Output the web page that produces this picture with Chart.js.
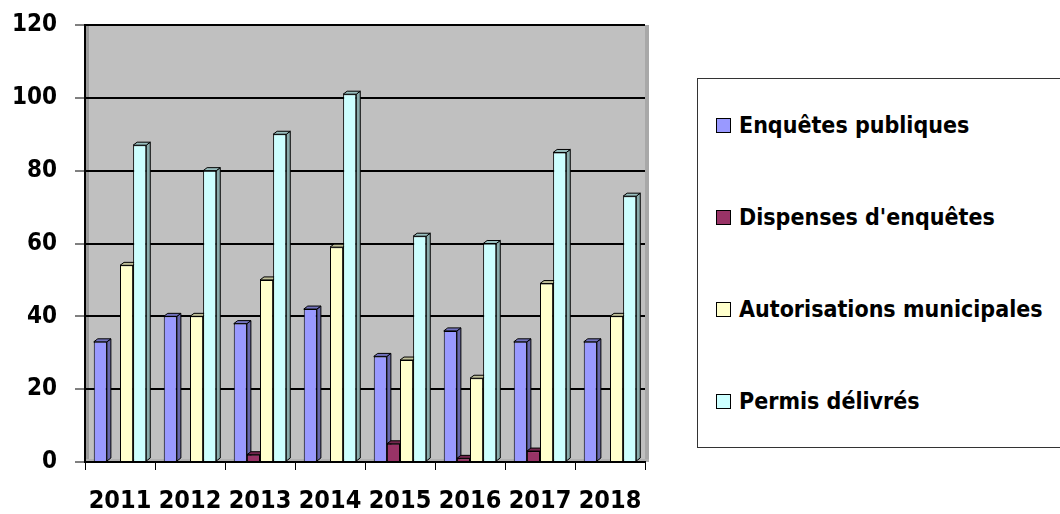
<!DOCTYPE html>
<html>
<head>
<meta charset="utf-8">
<script src="https://cdn.jsdelivr.net/npm/chart.js@4.4.0/dist/chart.umd.min.js"></script>
<style>
  html, body { margin: 0; padding: 0; background: #fff; }
  #wrap { position: relative; width: 1060px; height: 514px; overflow: hidden; }
  #legend {
    position: absolute; left: 697px; top: 78px; width: 400px; height: 370px;
    border: 1.5px solid #333; box-sizing: border-box; background: #fff;
    display: flex; flex-direction: column; justify-content: space-around;
    font: bold 23px "DejaVu Sans Condensed", "DejaVu Sans", sans-serif; color: #000;
  }
  .item { display: flex; align-items: center; padding-left: 18px; }
  .box { width: 13px; height: 13px; border: 1.5px solid #000; margin-right: 8px; }
</style>
</head>
<body>
<div id="wrap">
  <canvas id="c" width="1060" height="514"></canvas>
  <div id="legend"></div>
</div>
<script>
// values
const years = ['2011', '2012', '2013', '2014', '2015', '2016', '2017', '2018'];
const enquetes = [33, 40, 38, 42, 29, 36, 33, 33];
const dispenses = [0, 0, 2, 0, 5, 1, 3, 0];
const autorisations = [54, 40, 50, 59, 28, 23, 49, 40];
const permis = [87, 80, 90, 101, 62, 60, 85, 73];

const seriesNames = ['Enquêtes publiques', "Dispenses d'enquêtes", 'Autorisations municipales', 'Permis délivrés'];
const seriesColors = ['#9999FF', '#993366', '#FFFFCC', '#CCFFFF'];
const yTicks = [0, 20, 40, 60, 80, 100, 120];

const DX = 4, DY = 3; // fake 3d depth
const FONT = 'DejaVu Sans Condensed';

function shade(hex, f) {
  const n = parseInt(hex.slice(1), 16);
  const r = Math.round(((n >> 16) & 255) * f);
  const g = Math.round(((n >> 8) & 255) * f);
  const b = Math.round((n & 255) * f);
  return 'rgb(' + r + ',' + g + ',' + b + ')';
}

// grey walls behind the bars
const wallPlugin = {
  id: 'wall',
  beforeDraw(chart) {
    const { ctx, chartArea: a } = chart;
    ctx.save();
    ctx.fillStyle = '#C0C0C0';
    ctx.fillRect(a.left, a.top, a.right - a.left, a.bottom - a.top);
    // left side wall
    ctx.fillStyle = '#9a9a9a';
    ctx.fillRect(a.left, a.top, DX, a.bottom - a.top);
    // right edge
    ctx.fillStyle = '#a8a8a8';
    ctx.fillRect(a.right, a.top, DX, a.bottom - a.top - DY);
    // floor
    ctx.fillStyle = '#b0b0b0';
    ctx.fillRect(a.left, a.bottom - DY, a.right - a.left + DX, DY);
    ctx.restore();
  }
};

// sides and tops of the columns, drawn before the fronts
const depthPlugin = {
  id: 'depth',
  beforeDatasetsDraw(chart) {
    const ctx = chart.ctx;
    ctx.save();
    ctx.lineWidth = 1;
    ctx.strokeStyle = '#000';
    chart.data.datasets.forEach((ds, i) => {
      const meta = chart.getDatasetMeta(i);
      meta.data.forEach((bar, j) => {
        if (!ds.data[j]) return;
        const l = bar.x - bar.width / 2, r = bar.x + bar.width / 2;
        const t = bar.y, b = bar.base;
        ctx.fillStyle = shade(seriesColors[i], 0.67);
        ctx.beginPath();
        ctx.moveTo(r, t); ctx.lineTo(r + DX, t - DY); ctx.lineTo(r + DX, b - DY); ctx.lineTo(r, b);
        ctx.closePath(); ctx.fill(); ctx.stroke();
        ctx.fillStyle = shade(seriesColors[i], 0.75);
        ctx.beginPath();
        ctx.moveTo(l, t); ctx.lineTo(l + DX, t - DY); ctx.lineTo(r + DX, t - DY); ctx.lineTo(r, t);
        ctx.closePath(); ctx.fill(); ctx.stroke();
      });
    });
    ctx.restore();
  }
};

const allSeries = [enquetes, dispenses, autorisations, permis];

new Chart(document.getElementById('c'), {
  type: 'bar',
  data: {
    labels: years,
    datasets: allSeries.map((vals, i) => ({
      label: seriesNames[i],
      data: vals,
      backgroundColor: seriesColors[i],
      borderColor: '#000',
      borderWidth: 1,
      categoryPercentage: 0.75,
      barPercentage: 1.0
    }))
  },
  options: {
    responsive: false,
    animation: false,
    devicePixelRatio: 1,
    layout: { padding: { left: 0, top: 25, right: 415, bottom: 0 } },
    plugins: { legend: { display: false }, tooltip: { enabled: false } },
    scales: {
      x: {
        afterFit: s => { s.height = 52; s.paddingLeft = 0; s.paddingRight = 0; },
        grid: { drawOnChartArea: false, drawTicks: true, tickLength: 8, color: '#000', offset: true },
        border: { display: true, color: '#000', width: 2 },
        ticks: { color: '#000', padding: 16, font: { family: FONT, weight: 'bold', size: 25 } }
      },
      y: {
        min: 0, max: 120,
        afterFit: s => { s.width = 85; s.paddingTop = 0; s.paddingBottom = 0; },
        afterBuildTicks: s => { s.ticks = yTicks.map(v => ({ value: v })); },
        grid: { color: '#000', lineWidth: 2, tickLength: 10, tickColor: '#000', tickWidth: 1 },
        border: { display: true, color: '#000', width: 2 },
        ticks: { color: '#000', padding: 18, font: { family: FONT, weight: 'bold', size: 24 } }
      }
    }
  },
  plugins: [wallPlugin, depthPlugin]
});

// legend box on the right
const legend = document.getElementById('legend');
seriesNames.forEach((name, i) => {
  const row = document.createElement('div');
  row.className = 'item';
  const box = document.createElement('span');
  box.className = 'box';
  box.style.background = seriesColors[i];
  const txt = document.createElement('span');
  txt.textContent = name;
  row.appendChild(box);
  row.appendChild(txt);
  legend.appendChild(row);
});
</script>
</body>
</html>
